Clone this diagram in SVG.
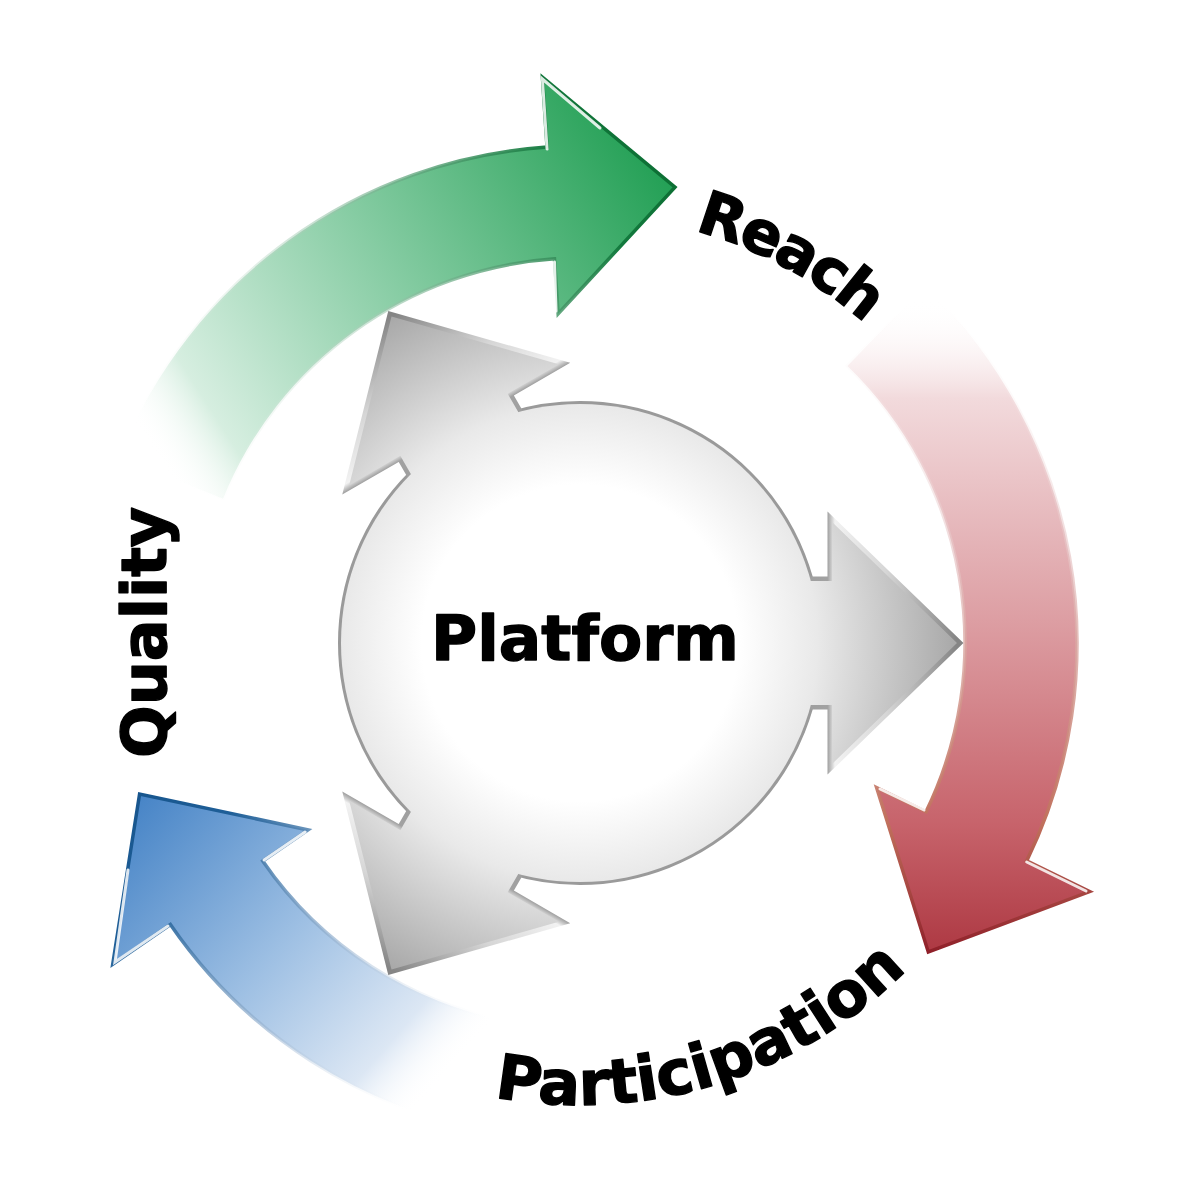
<svg xmlns="http://www.w3.org/2000/svg" width="1200" height="1200" viewBox="0 0 1200 1200">
<style>
.lbl{font-family:"DejaVu Sans","Liberation Sans",sans-serif;font-weight:bold;font-size:62px;fill:#000;stroke:#000;stroke-width:1.4;stroke-linejoin:round}
.ttl{font-family:"DejaVu Sans","Liberation Sans",sans-serif;font-weight:bold;font-size:63px;fill:#000;stroke:#000;stroke-width:1.4;stroke-linejoin:round}
.hl{fill:none;stroke:#ffffff;stroke-width:3;stroke-opacity:0.85;stroke-linecap:round}
</style>
<defs>
<linearGradient id="gFill" gradientUnits="userSpaceOnUse" x1="165" y1="470" x2="665" y2="150">
<stop offset="0" stop-color="#ffffff" stop-opacity="0"/>
<stop offset="0.12" stop-color="#d6eee0"/>
<stop offset="0.5" stop-color="#86cca3"/>
<stop offset="1" stop-color="#1f9e52"/>
</linearGradient>
<linearGradient id="gStroke" gradientUnits="userSpaceOnUse" x1="165" y1="470" x2="665" y2="150">
<stop offset="0" stop-color="#ffffff" stop-opacity="0"/>
<stop offset="0.45" stop-color="#9fc9b0" stop-opacity="0.6"/>
<stop offset="0.85" stop-color="#137a3e"/>
<stop offset="1" stop-color="#0c6e33"/>
</linearGradient>
<linearGradient id="rFill" gradientUnits="userSpaceOnUse" x1="930" y1="300" x2="930" y2="955">
<stop offset="0" stop-color="#ffffff" stop-opacity="0"/>
<stop offset="0.15" stop-color="#f2dadc"/>
<stop offset="0.5" stop-color="#dc9ca1"/>
<stop offset="0.8" stop-color="#c7636b"/>
<stop offset="1" stop-color="#ad3842"/>
</linearGradient>
<linearGradient id="rStroke" gradientUnits="userSpaceOnUse" x1="930" y1="300" x2="930" y2="955">
<stop offset="0" stop-color="#ffffff" stop-opacity="0"/>
<stop offset="0.4" stop-color="#e6c3c4" stop-opacity="0.7"/>
<stop offset="0.8" stop-color="#c0705c"/>
<stop offset="1" stop-color="#8e1e28"/>
</linearGradient>
<linearGradient id="bFill" gradientUnits="userSpaceOnUse" x1="445" y1="1075" x2="130" y2="800">
<stop offset="0" stop-color="#ffffff" stop-opacity="0"/>
<stop offset="0.15" stop-color="#dce7f4"/>
<stop offset="0.5" stop-color="#9dbfe3"/>
<stop offset="1" stop-color="#4583c6"/>
</linearGradient>
<linearGradient id="bStroke" gradientUnits="userSpaceOnUse" x1="445" y1="1075" x2="130" y2="800">
<stop offset="0" stop-color="#ffffff" stop-opacity="0"/>
<stop offset="0.4" stop-color="#9db7d3" stop-opacity="0.7"/>
<stop offset="0.8" stop-color="#1f5f98"/>
<stop offset="1" stop-color="#17558d"/>
</linearGradient>
<radialGradient id="pFill" gradientUnits="userSpaceOnUse" cx="0" cy="0" r="377">
<stop offset="0" stop-color="#ffffff"/>
<stop offset="0.42" stop-color="#ffffff"/>
<stop offset="0.63" stop-color="#e9e9e9"/>
<stop offset="1" stop-color="#a8a8a8"/>
</radialGradient>
<linearGradient id="aStroke" x1="0" y1="0" x2="1" y2="0">
<stop offset="0" stop-color="#9a9a9a"/>
<stop offset="0.27" stop-color="#a2a2a2"/>
<stop offset="0.31" stop-color="#f2f2f2"/>
<stop offset="0.6" stop-color="#d6d6d6"/>
<stop offset="1" stop-color="#858585"/>
</linearGradient>
<polygon id="garrow" points="200,-62 252,-62 252,-121 377,0 252,121 252,62 200,62"/>
<path id="pathReach" d="M 694.38 230.57 A 428 428 0 0 1 982.19 496.62"/>
<path id="pathPart" d="M 494.22 1096.97 A 462 462 0 0 0 980.10 874"/>
</defs>
<rect width="1200" height="1200" fill="#ffffff"/>
<g id="connectors">
<g id="arrow-quality-reach">
<path d="M 119.19 456.82 A 497 497 0 0 1 547.06 147.1 L 542.43 77.25 L 675 187.2 L 558.13 313.73 L 554.49 258.85 A 385 385 0 0 0 223.04 498.78 Z" fill="url(#gFill)" stroke="url(#gStroke)" stroke-width="3.5"/>
<polyline class="hl" points="547.06,149 542.43,79 600,128"/>
<polyline class="hl" points="556,311 554.49,262"/>
</g>
<g id="arrow-reach-participation">
<path d="M 925.25 285.49 A 497 497 0 0 1 1026.70 860.87 L 1089.61 891.56 L 928.31 951.96 L 876.60 787.66 L 926.03 811.77 A 385 385 0 0 0 847.44 366.05 Z" fill="url(#rFill)" stroke="url(#rStroke)" stroke-width="3.5"/>
<polyline class="hl" points="1026.70,862 1086,891"/>
<polyline class="hl" points="880,789 924,810"/>
</g>
<g id="arrow-participation-quality">
<path d="M 493.70 1132.45 A 497 497 0 0 1 170.41 924.51 L 112.72 964.15 L 139.58 794.01 L 308.04 829.92 L 262.71 861.07 A 385 385 0 0 0 513.15 1022.15 Z" fill="url(#bFill)" stroke="url(#bStroke)" stroke-width="3.5"/>
<polyline class="hl" points="168,926 115,962 128,870"/>
<polyline class="hl" points="305,832 264,860"/>
</g>
</g>
<g id="platform">
<g transform="translate(580,643)">
<circle r="239" fill="none" stroke="#9a9a9a" stroke-width="6"/>
<use href="#garrow" fill="none" stroke="url(#aStroke)" stroke-width="9"/>
<use href="#garrow" transform="rotate(-120)" fill="none" stroke="url(#aStroke)" stroke-width="9"/>
<use href="#garrow" transform="rotate(120)" fill="none" stroke="url(#aStroke)" stroke-width="9"/>
<circle r="239" fill="url(#pFill)"/>
<use href="#garrow" fill="url(#pFill)"/>
<use href="#garrow" transform="rotate(-120)" fill="url(#pFill)"/>
<use href="#garrow" transform="rotate(120)" fill="url(#pFill)"/>
</g>
<text class="ttl" x="585" y="660" text-anchor="middle">Platform</text>
</g>
<g id="reach"><text class="lbl" style="font-size:60px" letter-spacing="-2.5"><textPath href="#pathReach">Reach</textPath></text></g>
<g id="quality"><text class="lbl" transform="translate(166,758) rotate(-90)" x="0" y="0">Quality</text></g>
<g id="participation"><text class="lbl"><textPath href="#pathPart">Participation</textPath></text></g>
</svg>
